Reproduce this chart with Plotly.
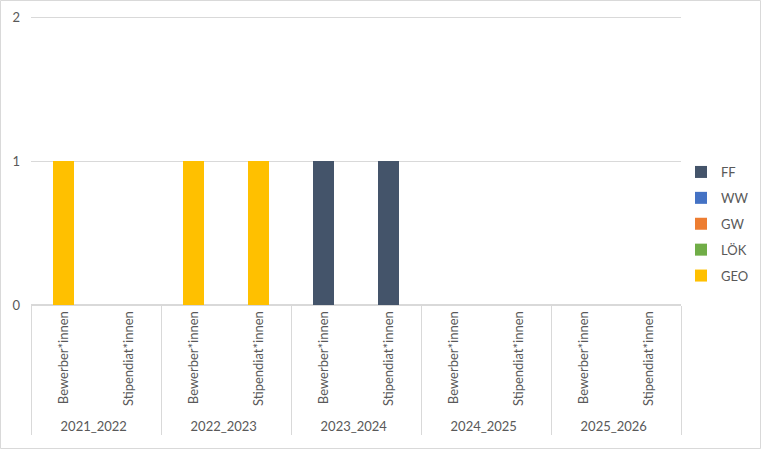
import plotly.graph_objects as go

# Kategorien (zweistufige x-Achse)
jahre = ["2021_2022", "2022_2023", "2023_2024", "2024_2025", "2025_2026"]
gruppen = ["Bewerber*innen", "Stipendiat*innen"]

# Werte je Bereich, Reihenfolge wie x-Kategorien (Jahr x Gruppe)
ff = [0, 0, 0, 0, 1, 1, 0, 0, 0, 0]
ww = [0, 0, 0, 0, 0, 0, 0, 0, 0, 0]
gw = [0, 0, 0, 0, 0, 0, 0, 0, 0, 0]
loek = [0, 0, 0, 0, 0, 0, 0, 0, 0, 0]
geo = [1, 0, 1, 1, 0, 0, 0, 0, 0, 0]

y_ticks = [0, 1, 2]

x_outer = [j for j in jahre for _ in gruppen]
x_inner = [g for _ in jahre for g in gruppen]

serien = [
    ("FF", ff, "#44546A"),
    ("WW", ww, "#4472C4"),
    ("GW", gw, "#ED7D31"),
    ("LÖK", loek, "#70AD47"),
    ("GEO", geo, "#FFC000"),
]

grau = "#595959"
linie = "#D9D9D9"

# Plotbereich in Pixeln (oben 2 px Luft, damit die Gitterlinie bei 2 sichtbar bleibt)
L, R, T, B = 31, 80, 15, 144
W, H = 761, 449
pw, ph = W - L - R, H - T - B
y_max = 2 * ph / (ph - 2)

fig = go.Figure()
for name, werte, farbe in serien:
    fig.add_trace(go.Bar(
        x=[x_outer, x_inner],
        y=werte,
        name=name,
        legendgroup=name,
        marker=dict(color=farbe, line=dict(width=0)),
    ))

fig.update_layout(
    width=W,
    height=H,
    barmode="stack",
    bargap=0.69,
    plot_bgcolor="white",
    paper_bgcolor="white",
    margin=dict(l=L, r=R, t=T, b=B, autoexpand=False),
    font=dict(family="Lato, Liberation Sans, sans-serif", size=13, color=grau),
    legend=dict(
        x=(681 - L) / pw, y=(H - B - 224) / ph, xanchor="left", yanchor="middle",
        traceorder="grouped", tracegroupgap=6,
        font=dict(size=13, color=grau),
        itemwidth=30,
    ),
    xaxis=dict(
        type="multicategory",
        tickangle=-90,
        automargin=False,
        showline=True, linecolor=linie, linewidth=1,
        showdividers=True, dividercolor=linie, dividerwidth=1,
        showgrid=False,
        tickfont=dict(size=13, color=grau),
    ),
    yaxis=dict(
        range=[0, y_max],
        tickvals=y_ticks,
        automargin=False,
        showgrid=True, gridcolor=linie, gridwidth=1,
        zeroline=True, zerolinecolor=linie,
        showline=False,
        ticklabelstandoff=10,
        tickfont=dict(size=13, color=grau),
    ),
    shapes=[dict(
        type="rect", xref="paper", yref="paper",
        x0=(0.5 - L) / pw, x1=(W - 0.5 - L) / pw,
        y0=-(B - 0.5) / ph, y1=(ph + T - 0.5) / ph,
        line=dict(color=linie, width=1), fillcolor="rgba(0,0,0,0)",
        layer="below",
    )],
)

# Seitenrand des Browsers entfernen, damit die Grafik bündig sitzt
fig.write_html(
    "out.html",
    config={"displayModeBar": False},
    post_script="document.body.style.margin='0';",
)
